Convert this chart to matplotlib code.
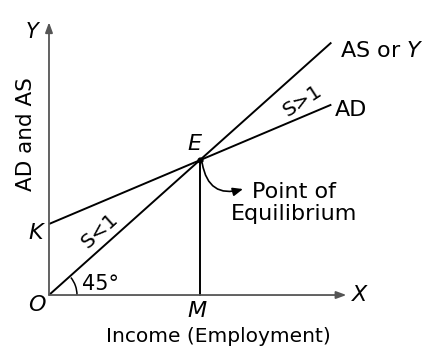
import matplotlib.pyplot as plt
from matplotlib.patches import Arc, FancyArrowPatch

# data (units: E sits at income 10, output 10)
as_x = [0, 18.7]
as_y = [0, 18.7]
ad_x = [0, 18.7]
ad_y = [5.26, 14.1]
eq_x = 10
eq_y = 10
x_axis_end = 19.7
y_axis_end = 20.2

plt.rcParams['font.family'] = ['DejaVu Sans']
plt.rcParams['mathtext.fontset'] = 'dejavusans'

fig = plt.figure(figsize=(4.26, 3.47), dpi=100)
ax = fig.add_axes([0, 0, 1, 1])
ax.set_xlim(-3.245, 24.97)
ax.set_ylim(-3.85, 21.85)
ax.axis('off')

axis_col = '#555555'
# axes with arrows
ax.annotate('', xy=(x_axis_end, 0), xytext=(0, 0),
            arrowprops=dict(arrowstyle='-|>,head_length=0.6,head_width=0.22',
                            color=axis_col, lw=1.3, shrinkA=0, shrinkB=0))
ax.annotate('', xy=(0, y_axis_end), xytext=(0, 0),
            arrowprops=dict(arrowstyle='-|>,head_length=0.6,head_width=0.22',
                            color=axis_col, lw=1.3, shrinkA=0, shrinkB=0))

# AS and AD lines
ax.plot(as_x, as_y, color='black', lw=1.4, solid_capstyle='butt')
ax.plot(ad_x, ad_y, color='black', lw=1.4, solid_capstyle='butt')
ax.plot([eq_x, eq_x], [0, eq_y], color='black', lw=1.4)
ax.plot(eq_x, eq_y, 'o', color='black', ms=3.5)

# 45 degree arc
ax.add_patch(Arc((0, 0), 2 * 28 / 15.1, 2 * 28 / 13.5, theta1=0, theta2=41.8,
                 color='black', lw=1.1))

# curved arrow from E
arr = FancyArrowPatch((eq_x + 0.15, eq_y - 0.25), (eq_x + 2.85, eq_y - 2.15),
                      connectionstyle='arc3,rad=0.55',
                      arrowstyle='-|>,head_length=6,head_width=2.5',
                      color='black', lw=1.2, shrinkA=0, shrinkB=0)
ax.add_patch(arr)

fs = 16
ax.text(-1.15, 19.5, 'Y', fontsize=fs - 1, style='italic', ha='center', va='center')
ax.text(20.6, 0, 'X', fontsize=fs, style='italic', ha='center', va='center')
ax.text(-0.8, -0.75, 'O', fontsize=fs, style='italic', ha='center', va='center')
ax.text(-0.85, 4.6, 'K', fontsize=fs, style='italic', ha='center', va='center')
ax.text(9.8, -1.2, 'M', fontsize=fs, style='italic', ha='center', va='center')
ax.text(9.6, 11.2, 'E', fontsize=fs, style='italic', ha='center', va='center')
ax.text(19.3, 18.05, 'AS or $Y$', fontsize=16, ha='left', va='center')
ax.text(18.95, 13.7, 'AD', fontsize=16, ha='left', va='center')
ax.text(16.8, 14.35, 'S>1', fontsize=14.5, ha='center', va='center', rotation=33)
ax.text(3.35, 4.8, 'S<1', fontsize=14.5, ha='center', va='center', rotation=42)
ax.text(3.4, 0.85, '45°', fontsize=15, ha='center', va='center')
ax.text(16.2, 6.8, 'Point of\nEquilibrium', fontsize=16, ha='center', va='center',
        linespacing=1.1)
ax.text(11.25, -3.1, 'Income (Employment)', fontsize=14.5, ha='center', va='center')
ax.text(-1.5, 11.95, 'AD and AS', fontsize=15.5, rotation=90, ha='center', va='center')

fig.savefig('out.png', dpi=100)
